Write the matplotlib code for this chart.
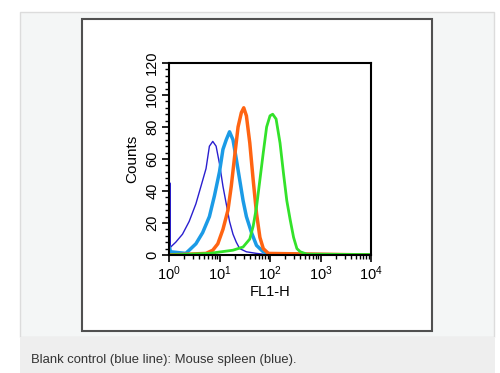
import matplotlib
matplotlib.use('Agg')
import matplotlib.pyplot as plt
from matplotlib.patches import Rectangle
from matplotlib.ticker import MultipleLocator, LogLocator, NullFormatter

plt.rcParams['font.family'] = ['Liberation Sans', 'DejaVu Sans']
plt.rcParams['mathtext.default'] = 'regular'

# histogram traces (FL1-H value, counts)
blank_x = [1.03, 1.03, 1.045, 1.045, 1.06, 1.08, 1.36, 1.85, 2.51, 3.41, 4.3, 5.41, 6.31, 7.36,
           8.57, 10, 11.7, 13.6, 15.8, 18.5, 21.5, 25.1, 34.1, 54.1, 100, 10000]
blank_y = [0, 45, 45, 10, 3, 5, 8, 13, 21, 32, 43, 54, 68, 71,
           68, 57, 43, 32, 21, 13, 8, 4, 2, 1, 0, 0]

spleen_x = [1.0, 1.08, 2.15, 2.51, 3.41, 4.64, 6.31, 7.94, 10, 11.7, 13.6, 15.8, 18.5,
            21.5, 25.1, 29.3, 34.1, 43, 54.1, 73.6, 100, 10000]
spleen_y = [5, 2, 1, 3, 7, 14, 24, 37, 52, 66, 72, 77, 72,
            60, 47, 34, 24, 14, 6, 2, 0.5, 0]

orange_x = [1.0, 5.41, 7.36, 9.26, 11.7, 14.7, 17.1, 20, 23.3, 27.1, 30.2, 34.1, 39.8,
            46.4, 54.1, 63.1, 73.6, 92.7, 10000]
orange_y = [0, 1, 3, 7, 16, 28, 43, 62, 80, 89, 92, 87, 70,
            47, 26, 11, 4, 1, 0]

green_x = [1.0, 6.31, 18.5, 29.3, 39.8, 46.4, 54.1, 63.1, 73.6, 85.7, 100, 113, 132,
           158, 185, 215, 251, 293, 341, 398, 541, 10000]
green_y = [0, 1, 3, 5, 10, 18, 30, 47, 64, 80, 87, 88, 85,
           70, 51, 34, 22, 11, 4, 2, 0.5, 0.3]

W, H = 500, 373
fig = plt.figure(figsize=(5, 3.73), dpi=100)
fig.patch.set_facecolor('white')

def box(x0, y0, x1, y1, **kw):
    # pixel box, y measured from top
    fig.patches.append(Rectangle((x0 / W, 1 - y1 / H), (x1 - x0) / W, (y1 - y0) / H,
                                 transform=fig.transFigure, figure=fig, zorder=-10, **kw))

box(20, 12, 494, 337, facecolor='#f4f6f6', edgecolor='#dcdcdc', linewidth=1)
box(20, 337, 495, 373, facecolor='#eeeeee', edgecolor='none')
box(82, 19, 432, 331, facecolor='white', edgecolor='#505050', linewidth=1.5)

fig.text(31 / W, 1 - 360 / H, 'Blank control (blue line): Mouse spleen (blue).',
         fontsize=9.4, color='#333333', va='center', ha='left')

ax = fig.add_axes([169 / W, 1 - 255 / H, 202 / W, 192 / H])
ax.set_facecolor('none')
ax.set_xscale('log')
ax.set_xlim(1, 10000)
ax.set_ylim(0, 120)

ax.plot(blank_x, blank_y, color='#2a1fcf', linewidth=1.0)
ax.plot(spleen_x, spleen_y, color='#1b9be6', linewidth=2.5)
ax.plot(orange_x, orange_y, color='#ff6412', linewidth=2.5)
ax.plot(green_x, green_y, color='#33e22a', linewidth=2.0)

ax.yaxis.set_major_locator(MultipleLocator(20))
ax.yaxis.set_minor_locator(MultipleLocator(4))
ax.xaxis.set_major_locator(LogLocator(base=10, numticks=10))
ax.xaxis.set_minor_locator(LogLocator(base=10, subs=range(2, 10), numticks=20))
ax.xaxis.set_minor_formatter(NullFormatter())

ax.tick_params(which='major', direction='out', length=5, width=1.2, labelsize=10.5, pad=2)
ax.tick_params(which='minor', direction='out', length=3, width=1)
ax.tick_params(axis='y', labelrotation=90)
for t in ax.get_yticklabels():
    t.set_va('center')

for s in ax.spines.values():
    s.set_linewidth(1.5)

ax.set_xlabel('FL1-H', fontsize=10.5, labelpad=1)
ax.set_ylabel('Counts', fontsize=11, labelpad=4)

fig.savefig('out.png', dpi=100)
